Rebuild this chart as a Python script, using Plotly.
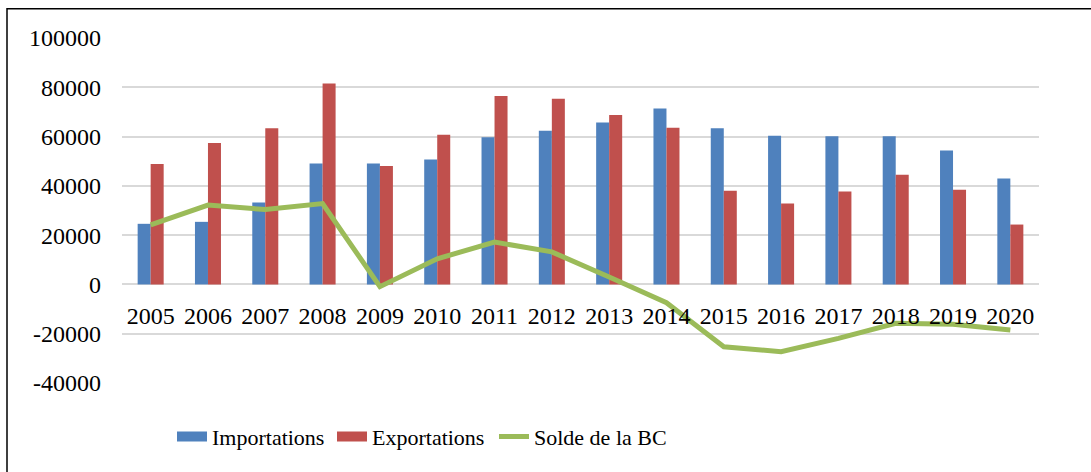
import plotly.graph_objects as go

years = [str(y) for y in range(2005, 2021)]
importations = [24600, 25400, 33200, 49100, 49100, 50700, 59700, 62400, 65700, 71400,
                63400, 60300, 60100, 60100, 54300, 43000]
exportations = [48900, 57400, 63400, 81500, 48100, 60700, 76500, 75300, 68800, 63600,
                38000, 32800, 37700, 44500, 38400, 24300]
solde = [24200, 32200, 30400, 32800, -900, 10400, 17200, 13200, 3000, -7400,
         -25300, -27300, -21900, -15800, -16200, -18500]
ytick_vals = [-40000, -20000, 0, 20000, 40000, 60000, 80000, 100000]

BLUE = "#4F81BD"
RED = "#C0504D"
GREEN = "#9BBB59"
FONT = "Liberation Serif, Times New Roman, serif"

fig = go.Figure()
fig.add_trace(go.Bar(x=years, y=importations, name="Importations", marker_color=BLUE,
                     marker_line_width=0, showlegend=False))
fig.add_trace(go.Bar(x=years, y=exportations, name="Exportations", marker_color=RED,
                     marker_line_width=0, showlegend=False))
fig.add_trace(go.Scatter(x=years, y=solde, name="Solde de la BC", mode="lines",
                         line=dict(color=GREEN, width=5), showlegend=False))
# legend entries
fig.add_trace(go.Scatter(x=[None], y=[None], name="Importations", mode="lines",
                         line=dict(color=BLUE, width=14), legend="legend"))
fig.add_trace(go.Scatter(x=[None], y=[None], name="Exportations", mode="lines",
                         line=dict(color=RED, width=14), legend="legend"))
fig.add_trace(go.Scatter(x=[None], y=[None], name="Solde de la BC", mode="lines",
                         line=dict(color=GREEN, width=5), legend="legend2"))

legend_common = dict(orientation="h", xanchor="left", y=-0.156, yanchor="middle",
                     font=dict(size=22, family=FONT, color="black"),
                     bgcolor="rgba(0,0,0,0)")

fig.update_layout(
    width=1091, height=472,
    margin=dict(l=122, r=52, t=38, b=89),
    paper_bgcolor="white", plot_bgcolor="white",
    font=dict(family=FONT, color="black", size=24),
    barmode="group", bargap=0.546, bargroupgap=0,
    legend=dict(x=(177 - 122 - 5) / 917, entrywidth=115, entrywidthmode="pixels",
                **legend_common),
    legend2=dict(x=(499 - 122 - 5) / 917, **legend_common),
    xaxis=dict(type="category", anchor="free", position=40000 / 140000,
               showline=False, showgrid=False, ticks="",
               tickfont=dict(size=24, family=FONT, color="black"),
               ticklabelstandoff=15),
    yaxis=dict(range=[-40000, 100000], tickvals=ytick_vals,
               ticktext=[str(v) for v in ytick_vals],
               showgrid=True, gridcolor="#D9D9D9", gridwidth=1.5,
               zeroline=True, zerolinecolor="#D9D9D9", zerolinewidth=1.5,
               showline=False, ticks="", tickfont=dict(size=24, family=FONT, color="black"),
               ticklabelstandoff=20),
    shapes=[dict(type="rect", xref="paper", yref="paper",
                 x0=(7 - 122) / 917, x1=1.2, y0=-0.4, y1=(383.3 - 9) / 345,
                 line=dict(color="black", width=1.5), layer="below")],
)

fig.write_html("out.html", config={"displayModeBar": False},
               post_script="document.body.style.margin='0';document.body.style.overflow='hidden';")
